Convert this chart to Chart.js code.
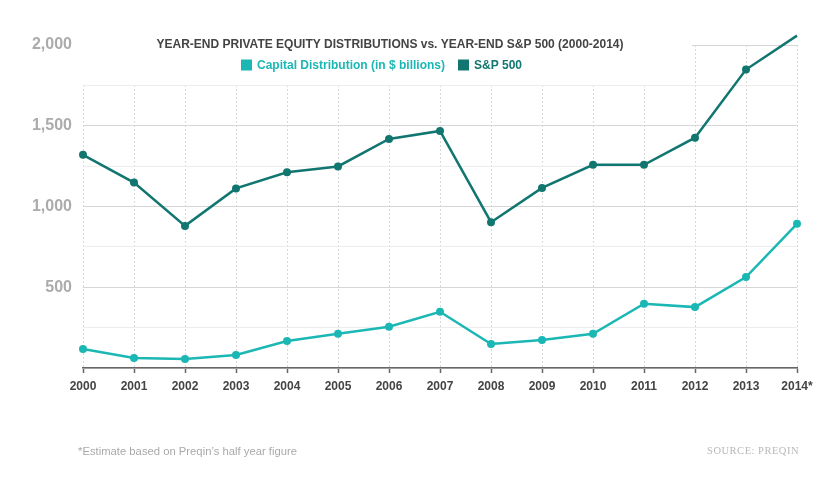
<!DOCTYPE html>
<html>
<head>
<meta charset="utf-8">
<script src="https://cdn.jsdelivr.net/npm/chart.js@4.4.1/dist/chart.umd.min.js"></script>
<style>
html,body{margin:0;padding:0;background:#fff;}
#wrap{position:relative;width:840px;height:485px;}
</style>
</head>
<body>
<div id="wrap"><canvas id="c" width="840" height="485"></canvas></div>
<script>
// ---- data ----
const years = ['2000','2001','2002','2003','2004','2005','2006','2007','2008','2009','2010','2011','2012','2013','2014*'];
const capitalDistribution = [118, 62, 56, 80, 167, 212, 256, 348, 149, 173, 212, 398, 377, 563, 893];
const sp500 = [1320, 1148, 880, 1112, 1212, 1248, 1418, 1468, 903, 1115, 1258, 1258, 1426, 1848, 2058];
const yMin = 0;
const yMax = 2000;
const yStep = 250;
const yLabelStep = 500;
const titleText = 'YEAR-END PRIVATE EQUITY DISTRIBUTIONS vs. YEAR-END S&P 500 (2000-2014)';
const seriesNames = ['Capital Distribution (in $ billions)', 'S&P 500'];
const footnoteText = '*Estimate based on Preqin\u2019s half year figure';
const sourceText = 'SOURCE: PREQIN';

// ---- style ----
const SANS = "'Liberation Sans', Arial, Helvetica, sans-serif";
const COLORS = ['#1bb7b5', '#127670'];

const overlay = {
  id: 'overlay',
  beforeDatasetsDraw(chart) {
    const ctx = chart.ctx;
    const a = chart.chartArea;
    ctx.save();
    // white panel behind title & legend (covers grid there)
    ctx.fillStyle = '#fff';
    ctx.fillRect(a.left - 2, a.top - 8, 692 - (a.left - 2), 84 - (a.top - 8));

    // title
    ctx.fillStyle = '#444';
    ctx.font = 'bold 12px ' + SANS;
    ctx.textAlign = 'center';
    ctx.textBaseline = 'middle';
    ctx.fillText(titleText, 390, 45);

    // legend
    ctx.font = 'bold 12px ' + SANS;
    const box = 11, gapText = 5, gapItem = 13;
    const widths = seriesNames.map(s => ctx.measureText(s).width);
    const total = widths.reduce((s, w) => s + box + gapText + w, 0) + gapItem * (seriesNames.length - 1);
    let x = 381.5 - total / 2;
    const yc = 65;
    ctx.textAlign = 'left';
    seriesNames.forEach((name, i) => {
      ctx.fillStyle = COLORS[i];
      ctx.fillRect(x, yc - box / 2, box, box);
      x += box + gapText;
      ctx.fillText(name, x, yc + 0.5);
      x += widths[i] + gapItem;
    });
    ctx.restore();
  },
  afterDraw(chart) {
    const ctx = chart.ctx;
    ctx.save();
    ctx.textBaseline = 'middle';
    // footnote (condensed)
    ctx.fillStyle = '#a9a9a9';
    ctx.font = "11.5px 'Liberation Sans Narrow', 'Arial Narrow', " + SANS;
    const w = ctx.measureText(footnoteText).width;
    const sx = Math.min(1, 219 / w);
    ctx.translate(78, 452);
    ctx.scale(sx, 1);
    ctx.textAlign = 'left';
    ctx.fillText(footnoteText, 0, 0);
    ctx.restore();

    ctx.save();
    ctx.textBaseline = 'middle';
    ctx.fillStyle = '#b8b8b8';
    ctx.font = "10.5px 'Liberation Serif', 'Times New Roman', serif";
    if ('letterSpacing' in ctx) ctx.letterSpacing = '0.5px';
    ctx.textAlign = 'right';
    ctx.fillText(sourceText, 799, 451.5);
    ctx.restore();
  }
};

new Chart(document.getElementById('c'), {
  type: 'line',
  data: {
    labels: years,
    datasets: [
      {
        label: seriesNames[0],
        data: capitalDistribution,
        borderColor: COLORS[0],
        backgroundColor: COLORS[0],
        pointBackgroundColor: COLORS[0],
        pointBorderColor: COLORS[0],
        borderWidth: 2.5,
        pointRadius: 4,
        pointBorderWidth: 0,
        tension: 0,
        clip: false
      },
      {
        label: seriesNames[1],
        data: sp500,
        borderColor: COLORS[1],
        backgroundColor: COLORS[1],
        pointBackgroundColor: COLORS[1],
        pointBorderColor: COLORS[1],
        borderWidth: 2.5,
        pointRadius: 4,
        pointBorderWidth: 0,
        tension: 0,
        clip: false
      }
    ]
  },
  options: {
    responsive: false,
    animation: false,
    devicePixelRatio: 1,
    layout: { padding: { top: 45, right: 43, left: 0, bottom: 0 } },
    plugins: { legend: { display: false }, title: { display: false }, tooltip: { enabled: false } },
    scales: {
      x: {
        offset: false,
        afterFit(s) { s.height = 117; },
        border: { display: true, color: '#666', width: 1.5, dash: [2, 2] },
        grid: { color: '#d8d8d8', lineWidth: 1, tickColor: '#666', tickLength: 5, tickWidth: 1.5, tickBorderDash: [] },
        ticks: { color: '#444', font: { family: SANS, size: 12, weight: 'bold' }, padding: 6, maxRotation: 0, autoSkip: false }
      },
      y: {
        min: yMin,
        max: yMax,
        afterFit(s) { s.width = 83; },
        border: { display: false },
        grid: {
          drawTicks: false,
          lineWidth: 1,
          color: c => (c.tick && c.tick.value % yLabelStep === 0) ? '#d6d6d6' : '#ededed'
        },
        ticks: {
          stepSize: yStep,
          padding: 11,
          color: '#ababab',
          font: { family: SANS, size: 16, weight: 'bold' },
          callback: v => (v % yLabelStep === 0 && v > 0) ? v.toLocaleString('en-US') : ''
        }
      }
    }
  },
  plugins: [overlay]
});
</script>
</body>
</html>
